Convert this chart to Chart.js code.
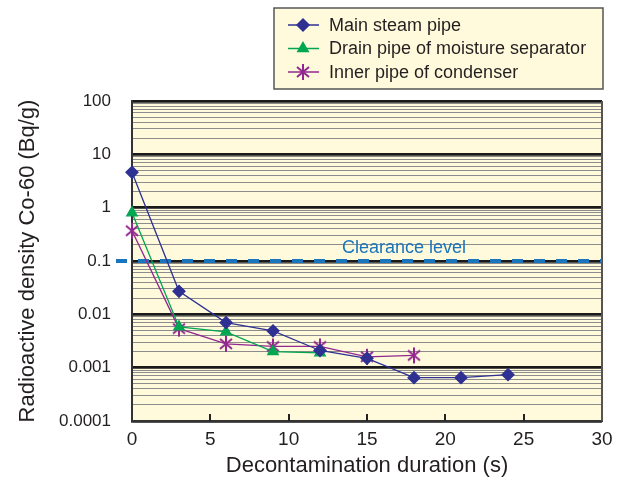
<!DOCTYPE html>
<html lang="en">
<head>
<meta charset="UTF-8">
<title>Radioactive density vs decontamination duration</title>
<script src="https://cdn.jsdelivr.net/npm/chart.js"></script>
<style>
  html, body { margin: 0; padding: 0; background: #fff; }
  canvas { display: block; }
</style>
</head>
<body>
<canvas id="grafico" width="623" height="479"></canvas>
<script>
  // data
  const durations = [0, 3, 6, 9, 12, 15, 18, 21, 24];
  const mainSteam = [4.6, 0.027, 0.0070, 0.0049, 0.0021, 0.0015, 0.00065, 0.00065, 0.00074];
  const drainPipe = [0.8, 0.0058, 0.0047, 0.0020, 0.0019];
  const innerPipe = [0.37, 0.0054, 0.0028, 0.0025, 0.0025, 0.0016, 0.0017];
  const seriesNames = ['Main steam pipe', 'Drain pipe of moisture separator', 'Inner pipe of condenser'];
  const yTickLabels = ['0.0001', '0.001', '0.01', '0.1', '1', '10', '100'];
  const xTickLabels = ['0', '5', '10', '15', '20', '25', '30'];
  const clearanceLevel = 0.1;
  const clearanceText = 'Clearance level';

  const FONT = '"Liberation Sans", Arial, sans-serif';
  const plotBg = '#fffadc';

  // asterisk marker for the condenser series
  function asterisco(color) {
    const c = document.createElement('canvas');
    c.width = 18; c.height = 18;
    const g = c.getContext('2d');
    g.strokeStyle = color;
    g.lineWidth = 2;
    g.beginPath();
    g.moveTo(9, 1); g.lineTo(9, 17);
    g.moveTo(3, 4); g.lineTo(15, 14);
    g.moveTo(15, 4); g.lineTo(3, 14);
    g.stroke();
    return c;
  }

  const toXY = arr => arr.map((v, i) => ({ x: durations[i], y: v }));
  const decades = yTickLabels.map(Number);
  const esDecada = v => decades.some(d => Math.abs(d - v) < d * 1e-6);

  const series = [
    { label: seriesNames[0], data: toXY(mainSteam), color: '#2e3192', pointStyle: 'rectRot', pointRadius: 6 },
    { label: seriesNames[1], data: toXY(drainPipe), color: '#00a651', pointStyle: 'triangle', pointRadius: 6 },
    { label: seriesNames[2], data: toXY(innerPipe), color: '#92278f', pointStyle: asterisco('#92278f'), pointRadius: 8 }
  ];

  const fondo = {
    id: 'fondo',
    beforeDraw(chart) {
      const { ctx, chartArea: a } = chart;
      ctx.save();
      ctx.fillStyle = plotBg;
      ctx.fillRect(a.left, a.top, a.right - a.left, a.bottom - a.top);
      ctx.restore();
    },
    beforeDatasetsDraw(chart) {
      const { ctx, chartArea: a, scales } = chart;
      ctx.save();
      // small inner ticks on the x axis
      ctx.strokeStyle = '#222';
      ctx.lineWidth = 2;
      xTickLabels.forEach(t => {
        const v = Number(t);
        if (v <= 0 || v >= 30) return;
        const px = Math.round(scales.x.getPixelForValue(v));
        ctx.beginPath();
        ctx.moveTo(px, a.bottom);
        ctx.lineTo(px, a.bottom - 7);
        ctx.stroke();
      });
      // right border
      ctx.strokeStyle = '#555';
      ctx.lineWidth = 2;
      ctx.beginPath();
      ctx.moveTo(a.right, a.top);
      ctx.lineTo(a.right, a.bottom);
      ctx.stroke();
      // clearance level
      const py = scales.y.getPixelForValue(clearanceLevel);
      ctx.strokeStyle = '#1b75bc';
      ctx.lineWidth = 4;
      ctx.setLineDash([11, 11]);
      ctx.beginPath();
      ctx.moveTo(a.left - 16, py);
      ctx.lineTo(a.right, py);
      ctx.stroke();
      ctx.setLineDash([]);
      ctx.fillStyle = '#1b75bc';
      ctx.font = '18px ' + FONT;
      ctx.textBaseline = 'alphabetic';
      ctx.fillText(clearanceText, scales.x.getPixelForValue(13.4), py - 8);
      ctx.restore();
    },
    afterDraw(chart) {
      const { ctx } = chart;
      ctx.save();
      ctx.fillStyle = plotBg;
      ctx.strokeStyle = '#555';
      ctx.lineWidth = 1.5;
      ctx.fillRect(274, 8, 329, 81);
      ctx.strokeRect(274, 8, 329, 81);
      ctx.font = '18px ' + FONT;
      ctx.textBaseline = 'middle';
      series.forEach((s, i) => {
        const y = 25 + i * 23.5;
        ctx.strokeStyle = s.color;
        ctx.lineWidth = 1.5;
        ctx.beginPath();
        ctx.moveTo(288, y);
        ctx.lineTo(319, y);
        ctx.stroke();
        ctx.fillStyle = s.color;
        Chart.helpers.drawPoint(ctx, {
          pointStyle: s.pointStyle, radius: s.pointRadius, rotation: 0, borderWidth: 1
        }, 303, y);
        ctx.fillStyle = '#231f20';
        ctx.fillText(s.label, 329, y + 1);
      });
      ctx.restore();
    }
  };

  const ctx = document.getElementById('grafico').getContext('2d');
  new Chart(ctx, {
    type: 'scatter',
    data: {
      datasets: series.map(s => ({
        label: s.label,
        data: s.data,
        showLine: true,
        borderColor: s.color,
        backgroundColor: s.color,
        borderWidth: 1.3,
        pointStyle: s.pointStyle,
        pointRadius: s.pointRadius,
        pointHoverRadius: s.pointRadius,
        pointBorderColor: s.color,
        pointBackgroundColor: s.color,
        clip: false
      }))
    },
    options: {
      responsive: false,
      animation: false,
      devicePixelRatio: 1,
      layout: { padding: { top: 101, right: 21, left: 15, bottom: 0 } },
      plugins: { legend: { display: false }, tooltip: { enabled: false } },
      scales: {
        x: {
          type: 'linear',
          min: 0, max: 30,
          afterBuildTicks: scale => { scale.ticks = xTickLabels.map(t => ({ value: Number(t) })); },
          afterFit: scale => { scale.height = 58; },
          ticks: { color: '#231f20', font: { family: FONT, size: 19 }, padding: 7, maxRotation: 0 },
          grid: { drawOnChartArea: false, drawTicks: false },
          border: { display: true, color: '#333', width: 2 },
          title: { display: true, text: 'Decontamination duration (s)', color: '#231f20', font: { family: FONT, size: 22 }, padding: 0 }
        },
        y: {
          type: 'logarithmic',
          min: 0.0001, max: 100,
          afterBuildTicks: scale => {
            const t = [];
            decades.forEach((d, i) => {
              t.push({ value: d });
              if (i < decades.length - 1) {
                for (let k = 2; k <= 9; k++) t.push({ value: d * k });
              }
            });
            scale.ticks = t;
          },
          afterFit: scale => { scale.width = 117; },
          ticks: {
            autoSkip: false,
            color: '#231f20',
            font: { family: FONT, size: 17 },
            padding: 21,
            callback: v => yTickLabels.find(l => Math.abs(Number(l) - v) < Number(l) * 1e-6) || ''
          },
          grid: {
            drawTicks: false,
            color: c => esDecada(c.tick.value) ? '#1a1a1a' : '#8c8c8c',
            lineWidth: c => esDecada(c.tick.value) ? 2.8 : 1
          },
          border: { display: true, color: '#333', width: 2 },
          title: { display: true, text: 'Radioactive density Co-60 (Bq/g)', color: '#231f20', font: { family: FONT, size: 22 }, padding: 0 }
        }
      }
    },
    plugins: [fondo]
  });
</script>
</body>
</html>
